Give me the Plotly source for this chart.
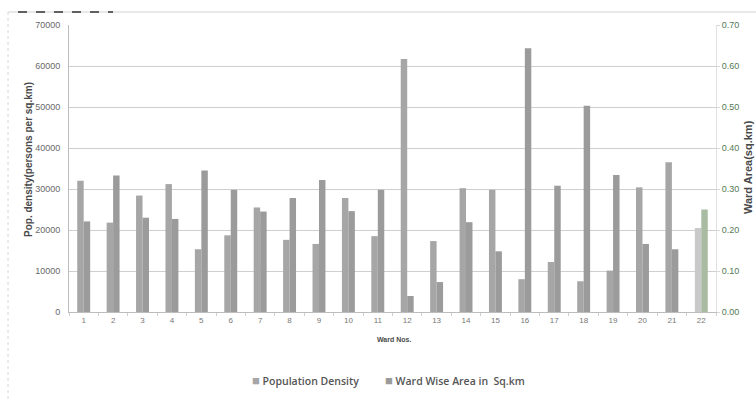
import plotly.graph_objects as go

wards = [str(i) for i in range(1, 23)]
pop_density = [32000, 21800, 28400, 31200, 15300, 18700, 25500, 17600, 16600, 27800, 18500,
               61700, 17300, 30200, 29800, 8000, 12200, 7500, 10100, 30400, 36500, 20500]
ward_area = [0.221, 0.333, 0.230, 0.227, 0.345, 0.298, 0.245, 0.278, 0.322, 0.246, 0.298,
             0.039, 0.073, 0.219, 0.148, 0.643, 0.308, 0.503, 0.334, 0.166, 0.153, 0.250]
left_ticks = list(range(0, 70001, 10000))
right_ticks = [i / 100 for i in range(0, 71, 10)]

W, H = 756, 401
L, R, T, B = 69, 40, 25, 89
pw, ph = W - L - R, H - T - B


def px(x):
    return (x - L) / pw


def py(y):
    return (H - B - y) / ph


font = "Liberation Sans Narrow, Liberation Sans, Arial, sans-serif"
DENS, AREA = "#a6a6a6", "#9b9b9b"

dens_colors = [DENS] * 21 + ["#c9c9c9"]
area_colors = [AREA] * 21 + ["#a9bba3"]

fig = go.Figure()
fig.add_trace(go.Bar(
    x=wards, y=pop_density, name="Population Density",
    marker=dict(color=dens_colors, line=dict(width=0)),
    offsetgroup="1", yaxis="y",
))
fig.add_trace(go.Bar(
    x=wards, y=ward_area, name="Ward Wise Area in  Sq.km",
    marker=dict(color=area_colors, line=dict(width=0)),
    offsetgroup="2", yaxis="y2",
))

legend_font = dict(size=10.5, color="#555555", family="Open Sans, sans-serif", weight=600)
swatch = "<span style='color:{};font-size:13px'>■</span> {}"

fig.update_layout(
    width=W, height=H,
    margin=dict(l=L, r=R, t=T, b=B),
    paper_bgcolor="white", plot_bgcolor="white",
    barmode="group", bargap=0.56, bargroupgap=0.0,
    font=dict(family=font, color="#666666", size=9),
    showlegend=False,
    xaxis=dict(
        type="category", showline=True, linecolor="#bdbdbd", linewidth=1,
        ticks="outside", ticklen=3, tickcolor="#cfcfcf", tickson="boundaries",
        tickfont=dict(size=8, color="#777777"), showgrid=False,
    ),
    yaxis=dict(
        range=[0, 70000], tickvals=left_ticks, ticktext=[str(v) for v in left_ticks],
        showgrid=True, gridcolor="#cfcfcf", gridwidth=1,
        showline=True, linecolor="#bdbdbd", linewidth=1, zeroline=False,
        tickfont=dict(size=9, color="#6a6a6a"), ticks="", ticklabelstandoff=6,
    ),
    yaxis2=dict(
        range=[0, 0.70], tickvals=right_ticks, tickformat=".2f",
        overlaying="y", side="right", showgrid=False,
        showline=True, linecolor="#e0e0e0", linewidth=1, zeroline=False,
        tickfont=dict(size=9, color="#557a55"), ticks="outside", ticklen=3,
        tickcolor="#d8d8d8",
    ),
    annotations=[
        dict(text="<b>Pop. density(persons per sq.km)</b>", xref="paper", yref="paper",
             x=px(28), y=py(160), xanchor="center", yanchor="middle",
             textangle=-90, showarrow=False,
             font=dict(size=10, color="#4a4a4a", family=font)),
        dict(text="<b>Ward Area(sq.km)</b>", xref="paper", yref="paper",
             x=px(748), y=py(167), xanchor="center", yanchor="middle",
             textangle=-90, showarrow=False,
             font=dict(size=11, color="#4a4a4a", family=font)),
        dict(text="<b>Ward Nos.</b>", xref="paper", yref="paper",
             x=px(394), y=py(345), showarrow=False,
             font=dict(size=7, color="#4a4a4a", family=font)),
        # legend entries
        dict(text=swatch.format(DENS, "Population Density"),
             xref="paper", yref="paper", x=px(250), y=py(380),
             xanchor="left", yanchor="middle", showarrow=False, font=legend_font),
        dict(text=swatch.format(AREA, "Ward Wise Area in  Sq.km"),
             xref="paper", yref="paper", x=px(383), y=py(380),
             xanchor="left", yanchor="middle", showarrow=False, font=legend_font),
    ],
    shapes=[
        dict(type="line", xref="paper", yref="paper", x0=px(8), x1=px(756),
             y0=py(12), y1=py(12), line=dict(color="#d2d2d2", width=1)),
        dict(type="line", xref="paper", yref="paper", x0=px(8), x1=px(8),
             y0=py(12), y1=py(401), line=dict(color="#d6d6d6", width=1, dash="dot")),
        dict(type="line", xref="paper", yref="paper", x0=px(18), x1=px(113),
             y0=py(12), y1=py(12), line=dict(color="#333333", width=1.5, dash="dash")),
    ],
)

fig.write_html("out.html")
